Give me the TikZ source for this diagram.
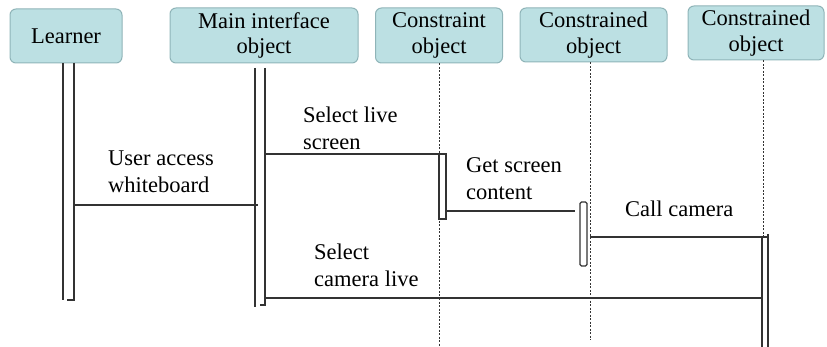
\documentclass[tikz,border=0pt]{standalone}
\usepackage{fontspec}
\setmainfont{Liberation Serif}
\definecolor{boxfill}{HTML}{BCE0E3}
\definecolor{boxline}{HTML}{8FB4B8}
\definecolor{wire}{HTML}{333333}
\begin{document}
\begin{tikzpicture}[x=1pt,y=-1pt]
	\tikzset{o/.style={draw=boxline, fill=boxfill, rounded corners=6pt, align=center, inner sep=0pt, line width=1pt, font=\fontsize{22.5}{25.5}\selectfont},
		b/.style={inner sep=0pt, outer sep=0pt},
		m/.style={draw=wire, line width=1.1pt},
		l/.style={draw=wire, line width=0.8pt, dash pattern=on 2pt off 1.5pt},
		t/.style={anchor=base west, align=left, inner sep=0pt, font=\fontsize{22.5}{27.5}\selectfont}};
	\useasboundingbox (0,0) rectangle (827,347);

	% objects
	\node[o, minimum width=112pt, minimum height=54pt] (learner) at (66,36) {Learner};
	\node[o, minimum width=188pt, minimum height=55pt] (main) at (264,35.5) {Main interface\\object};
	\node[o, minimum width=127pt, minimum height=55pt] (cons) at (439,35.5) {Constraint\\object};
	\node[o, minimum width=147pt, minimum height=54pt] (ced1) at (593.5,35) {Constrained\\object};
	\node[o, minimum width=136pt, minimum height=54pt] (ced2) at (756,33) {Constrained\\object};

	% lifelines and bars
	\node[b, minimum width=11pt, minimum height=237pt] (lbar) at (68.5,181.5) {};
	\node[b, minimum width=10pt, minimum height=237pt] (mbar) at (260,186.5) {};
	\draw[l] (cons.south) -- (cons.south |- 0,347);
	\node[b, draw=wire, fill=white, line width=1.1pt, minimum width=7pt, minimum height=65pt] (cbar) at (442.5,186.5) {};
	\draw[l] ([xshift=-3.5pt]ced1.south) -- ([xshift=-3.5pt]ced1.south |- 0,340);
	\node[b, draw=wire, fill=white, line width=1.1pt, rounded corners=1.5pt, minimum width=7pt, minimum height=64pt] (c1bar) at (583.5,234) {};
	\draw[l] ([xshift=7pt]ced2.south) -- ([xshift=7pt]ced2.south |- 0,237);
	\node[b, minimum width=6pt, minimum height=110pt] (c2bar) at (765,292) {};

	\draw[m] (lbar.north west) -- (lbar.south west);
	\draw[m] (lbar.north east) -- (lbar.south east) -- ++(-7,0);
	\draw[m] (mbar.north west) -- ([yshift=-2pt]mbar.south west);
	\draw[m] (mbar.north east) -- (mbar.south east) -- ++(-5,0);
	\draw[m] (c2bar.north west) -- (c2bar.south west);
	\draw[m] ([yshift=3pt]c2bar.north east) -- (c2bar.south east);

	% messages
	\draw[m] (lbar.east |- 0,205) -- ([xshift=3pt]mbar.west |- 0,205);
	\draw[m] (mbar.east |- cbar.north) -- (cbar.north west);
	\draw[m] (cbar.east |- 0,211) -- ([xshift=-5pt]c1bar.west |- 0,211);
	\draw[m] ([xshift=3pt]c1bar.east |- c2bar.north) -- (c2bar.north east);
	\draw[m] (mbar.east |- 0,298) -- (c2bar.west |- 0,298);

	\node[t] (t1) at (108,193) {User access\\whiteboard};
	\node[t] (t2) at (303,150) {Select live\\screen};
	\node[t] (t3) at (466,200) {Get screen\\content};
	\node[t] (t4) at (625,217) {Call camera};
	\node[t] (t5) at (314,287) {Select\\camera live};
\end{tikzpicture}
\end{document}
